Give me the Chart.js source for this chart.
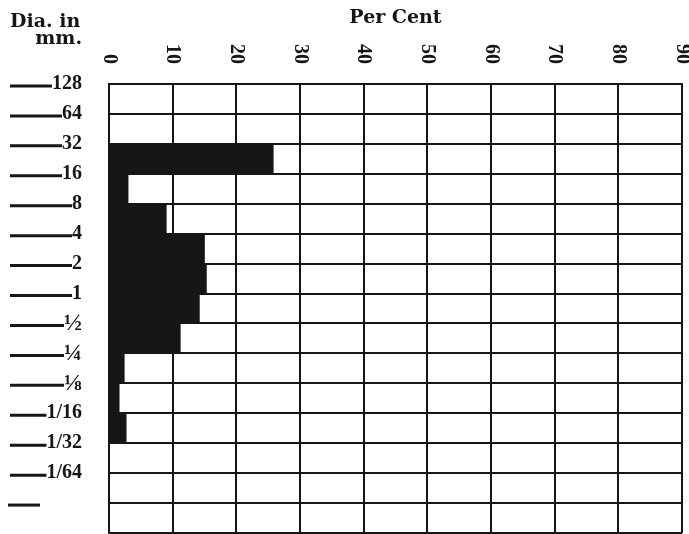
<!DOCTYPE html>
<html>
<head>
<meta charset="utf-8">
<script src="https://cdn.jsdelivr.net/npm/chart.js@4.4.1/dist/chart.umd.min.js"></script>
<style>
  html, body { margin: 0; padding: 0; background: #fff; }
</style>
</head>
<body>
<canvas id="myChart" width="689" height="534"></canvas>
<script>
// size classes (rows), top to bottom
var rowNames = ['128-64', '64-32', '32-16', '16-8', '8-4', '4-2', '2-1', '1-½',
                '½-¼', '¼-⅛', '⅛-1/16', '1/16-1/32', '1/32-1/64', '1/64-', ''];
// per cent in each class
var percent = [0, 0, 25.8, 3.0, 9.0, 15.0, 15.3, 14.2, 11.2, 2.4, 1.6, 2.7, 0, 0, 0];
// labels on the class boundaries (left side)
var boundaryLabels = ['128', '64', '32', '16', '8', '4', '2', '1', '½', '¼', '⅛',
                      '1/16', '1/32', '1/64', '', ''];
// per cent ticks along the top
var xTicks = [0, 10, 20, 30, 40, 50, 60, 70, 80, 90];

var ink = '#161616';

function labelSize(lbl) {
  // the single-glyph fractions print larger
  return lbl && lbl.length == 1 && isNaN(Number(lbl)) ? 24 : 20;
}

// draws the headings, the rotated per cent numbers and the little dashes
var paperPlugin = {
  id: 'paper',
  afterDraw: function(chart) {
    var ctx = chart.ctx;
    var xs = chart.scales.x;
    var ys = chart.scales.y2;
    ctx.save();
    ctx.fillStyle = ink;
    ctx.strokeStyle = ink;

    ctx.font = 'bold 19px "DejaVu Serif"';
    ctx.textBaseline = 'alphabetic';
    ctx.textAlign = 'left';
    ctx.fillText('Dia. in', 10, 27);
    ctx.textAlign = 'right';
    ctx.fillText('mm.', 82, 44);

    ctx.font = 'bold 20px "Liberation Serif"';
    ctx.textBaseline = 'middle';
    ctx.textAlign = 'right';
    xTicks.forEach(function(v) {
      ctx.save();
      ctx.translate(xs.getPixelForValue(v), 64);
      ctx.rotate(Math.PI / 2);
      ctx.fillText(String(v), 0, 0);
      ctx.restore();
    });

    ctx.lineWidth = 3;
    var textRight = chart.chartArea.left - 27;
    for (var i = 0; i < boundaryLabels.length - 1; i++) {
      var y = ys.getPixelForValue(i) + 2;
      var lbl = boundaryLabels[i];
      ctx.font = 'bold ' + labelSize(lbl) + 'px "Liberation Serif"';
      var end = lbl ? textRight - ctx.measureText(lbl).width : 40;
      ctx.beginPath();
      ctx.moveTo(lbl ? 10 : 8, y);
      ctx.lineTo(end, y);
      ctx.stroke();
    }
    ctx.restore();
  }
};

var ctx = document.getElementById('myChart').getContext('2d');
var chart = new Chart(ctx, {
  type: 'bar',
  data: {
    labels: rowNames,
    datasets: [{
      data: percent,
      backgroundColor: ink,
      borderWidth: 0,
      barPercentage: 1,
      categoryPercentage: 1,
      xAxisID: 'x',
      yAxisID: 'y'
    }]
  },
  options: {
    indexAxis: 'y',
    responsive: false,
    animation: false,
    layout: { padding: { left: 0, right: 7, top: 0, bottom: 1 } },
    plugins: {
      legend: { display: false },
      tooltip: { enabled: false }
    },
    scales: {
      x: {
        type: 'linear',
        position: 'top',
        min: 0,
        max: 90,
        ticks: { stepSize: 10, display: false },
        grid: { color: ink, lineWidth: 2, drawTicks: false },
        border: { color: ink, width: 2 },
        title: {
          display: true,
          text: 'Per Cent',
          color: ink,
          font: { family: 'DejaVu Serif', weight: 'bold', size: 19 },
          padding: { top: 7, bottom: 0 }
        },
        afterFit: function(s) { s.height = 84; }
      },
      y: {
        type: 'category',
        display: false,
        offset: true
      },
      y2: {
        type: 'linear',
        position: 'left',
        reverse: true,
        offset: false,
        min: 0,
        max: 15,
        ticks: {
          stepSize: 1,
          autoSkip: false,
          padding: 27,
          color: ink,
          font: function(c) {
            var lbl = c.tick ? boundaryLabels[c.tick.value] : '';
            return { family: 'Liberation Serif', weight: 'bold', size: labelSize(lbl) };
          },
          callback: function(v) { return boundaryLabels[v]; }
        },
        grid: { color: ink, lineWidth: 2, drawTicks: false, offset: false },
        border: { color: ink, width: 1.5 },
        afterFit: function(s) {
          s.width = 109;
          s.paddingTop = 0;
          s.paddingBottom = 0;
        }
      }
    }
  },
  plugins: [paperPlugin]
});
</script>
</body>
</html>
